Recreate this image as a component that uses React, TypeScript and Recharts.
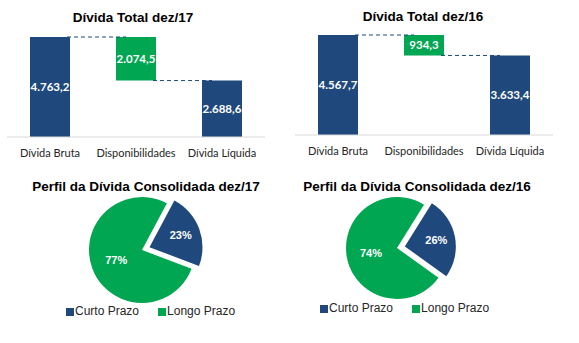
import React from 'react';
import { BarChart, Bar, XAxis, YAxis, Cell, LabelList, ReferenceLine, PieChart, Pie, Legend } from 'recharts';

const categories = ['Dívida Bruta', 'Disponibilidades', 'Dívida Líquida'];
const debt17 = [4763.2, 2074.5, 2688.6];
const debt16 = [4567.7, 934.3, 3633.4];

const termNames = ['Curto Prazo', 'Longo Prazo'];
const profile17 = [23, 77];
const profile16 = [26, 74];

const NAVY = '#1F497D';
const GREEN = '#00A651';
const barColors = [NAVY, GREEN, NAVY];
const pieColors = [NAVY, GREEN];

const TITLE_FONT = '"Liberation Sans", Arial, sans-serif';
const AXIS_FONT = 'Lato, "Open Sans", sans-serif';

// 4763.2 -> "4.763,2"
const fmt = (v: number) => {
    const [int, dec] = Number(v).toFixed(1).split('.');
    return int.replace(/\B(?=(\d{3})+(?!\d))/g, '.') + ',' + dec;
};

function Title({ text, cx, cy }: { text: string; cx: number; cy: number }) {
    return (
        <div
            style={{
                position: 'absolute',
                left: cx - 150,
                top: cy - 8,
                width: 300,
                lineHeight: '16px',
                textAlign: 'center',
                fontFamily: TITLE_FONT,
                fontWeight: 'bold',
                fontSize: 13.5,
                color: '#000',
            }}
        >
            {text}
        </div>
    );
}

// connector drawn between the bars only, not across them
const connector = (p: any) => (
    <line x1={p.x1 + 17} y1={p.y1} x2={p.x2 - 10} y2={p.y2} stroke={NAVY} strokeDasharray="4 3" strokeWidth={1} />
);

function Waterfall({ values, left, width, margin }: { values: number[]; left: number; width: number; margin: any }) {
    const [gross, cash] = values;
    // invisible base bar lifts "Disponibilidades" so it hangs from the gross debt level
    const data = categories.map((name, i) => ({
        name,
        base: i === 1 ? gross - cash : 0,
        value: values[i],
    }));

    return (
        <div style={{ position: 'absolute', left, top: 0 }}>
            <BarChart width={width} height={170} data={data} margin={margin} barSize={40}>
                <XAxis
                    dataKey="name"
                    axisLine={{ stroke: '#D9D9D9' }}
                    tickLine={false}
                    tickMargin={6}
                    interval={0}
                    tick={{ fill: '#262626', fontSize: 11, fontFamily: AXIS_FONT }}
                />
                <YAxis hide domain={[0, gross]} />
                <Bar dataKey="base" stackId="w" fill="transparent" isAnimationActive={false} />
                <Bar dataKey="value" stackId="w" isAnimationActive={false}>
                    {data.map((d, i) => (
                        <Cell key={d.name} fill={barColors[i]} />
                    ))}
                    <LabelList
                        dataKey="value"
                        position="center"
                        formatter={(v: any) => fmt(v)}
                        fill="#fff"
                        fontWeight="bold"
                        fontSize={11.5}
                        fontFamily={AXIS_FONT}
                    />
                </Bar>
                <ReferenceLine segment={[{ x: categories[0], y: gross }, { x: categories[1], y: gross }]} shape={connector} />
                <ReferenceLine segment={[{ x: categories[1], y: gross - cash }, { x: categories[2], y: gross - cash }]} shape={connector} />
            </BarChart>
        </div>
    );
}

function ProfilePie({ values, left, cx, cy, radius, startAngle, legendLeft, legendTop }: any) {
    const data = termNames.map((name, i) => ({ name, value: values[i] }));
    const total = values.reduce((a: number, b: number) => a + b, 0);
    const RAD = Math.PI / 180;
    // the short-term slice is pulled out along its middle angle
    const mid = startAngle - (values[0] / total) * 180;
    const explode = 8;
    const ox = explode * Math.cos(mid * RAD);
    const oy = -explode * Math.sin(mid * RAD);

    const renderLabel = (p: any) => {
        const r = p.outerRadius * (p.index === 0 ? 0.63 : 0.52);
        const x = p.cx + r * Math.cos(-p.midAngle * RAD) + (p.index === 0 ? ox : 0);
        const y = p.cy + r * Math.sin(-p.midAngle * RAD) + (p.index === 0 ? oy : 0);
        return (
            <text x={x} y={y} fill="#fff" textAnchor="middle" dominantBaseline="central" fontSize={11} fontWeight="bold" fontFamily={TITLE_FONT}>
                {`${p.value}%`}
            </text>
        );
    };

    return (
        <div style={{ position: 'absolute', left, top: 170 }}>
            <PieChart width={289} height={170} margin={{ top: 0, right: 0, bottom: 0, left: 0 }}>
                <Pie
                    data={data}
                    dataKey="value"
                    nameKey="name"
                    cx={cx}
                    cy={cy}
                    outerRadius={radius}
                    startAngle={startAngle}
                    endAngle={startAngle - 360}
                    stroke="none"
                    label={renderLabel}
                    labelLine={false}
                    isAnimationActive={false}
                >
                    {data.map((d, i) => (
                        <Cell key={d.name} fill={pieColors[i]} transform={i === 0 ? `translate(${ox},${oy})` : undefined} />
                    ))}
                </Pie>
                <Legend
                    layout="horizontal"
                    verticalAlign="middle"
                    align="center"
                    iconType="square"
                    iconSize={8}
                    wrapperStyle={{ left: legendLeft, top: legendTop, width: 'auto', fontFamily: TITLE_FONT, fontSize: 12, lineHeight: '14px' }}
                    formatter={(value: any) => <span style={{ color: '#262626', marginLeft: -3, marginRight: 9 }}>{value}</span>}
                />
            </PieChart>
        </div>
    );
}

export default function App() {
    return (
        <div style={{ position: 'absolute', left: 0, top: 0, width: 579, height: 343, background: '#fff', overflow: 'hidden' }}>
            <Waterfall values={debt17} left={0} width={275} margin={{ top: 37, right: 10, bottom: 3, left: 7 }} />
            <Waterfall values={debt16} left={290} width={273} margin={{ top: 35, right: 10, bottom: 5, left: 5 }} />
            <ProfilePie values={profile17} left={0} cx={142} cy={80} radius={53} startAngle={62} legendLeft={66} legendTop={134} />
            <ProfilePie values={profile16} left={290} cx={107} cy={78} radius={51} startAngle={58} legendLeft={30} legendTop={131} />
            <Title text="Dívida Total dez/17" cx={133} cy={18} />
            <Title text="Dívida Total dez/16" cx={423} cy={17} />
            <Title text="Perfil da Dívida Consolidada dez/17" cx={146} cy={187} />
            <Title text="Perfil da Dívida Consolidada dez/16" cx={417} cy={187} />
        </div>
    );
}
